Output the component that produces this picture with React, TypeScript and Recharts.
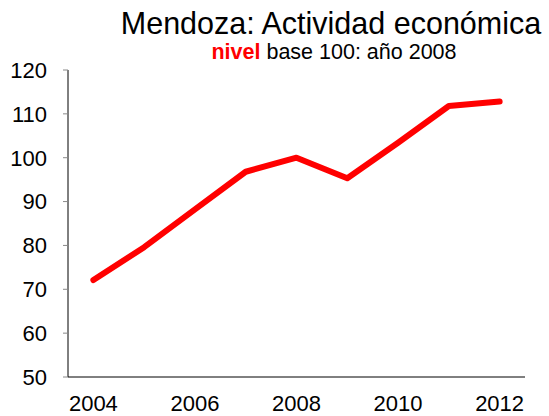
import React from 'react';
import { LineChart, Line, XAxis, YAxis } from 'recharts';

const years = [2004, 2005, 2006, 2007, 2008, 2009, 2010, 2011, 2012];
const nivel = [72.1, 79.6, 88.2, 96.8, 100, 95.3, 103.4, 111.8, 112.8];
const yearLabels = [2004, 2006, 2008, 2010, 2012];
const yTicks = [50, 60, 70, 80, 90, 100, 110, 120];

// tick marks sit between the years, like in the spreadsheet original
const bandEdges = [...years.map((y) => y - 0.5), years[years.length - 1] + 0.5];

const data = years.map((year, i) => ({ year, nivel: nivel[i] }));

const font = '"Liberation Sans", Arial, sans-serif';

const App: React.FC = () => {
  return (
    <div style={{ position: 'absolute', left: 0, top: 0, width: 549, height: 416, background: '#fff', fontFamily: font }}>
      <div
        style={{
          position: 'absolute',
          left: 111,
          width: 440,
          top: 8,
          textAlign: 'center',
          fontSize: 30.5,
          lineHeight: '30px',
          color: '#000',
          whiteSpace: 'nowrap'
        }}
      >
        Mendoza: Actividad económica
      </div>
      <div
        style={{
          position: 'absolute',
          left: 134,
          width: 400,
          top: 41,
          textAlign: 'center',
          fontSize: 21.5,
          lineHeight: '22px',
          color: '#000',
          whiteSpace: 'nowrap'
        }}
      >
        <span style={{ color: '#ff0000', fontWeight: 'bold' }}>nivel</span> base 100: año 2008
      </div>
      <LineChart width={549} height={416} data={data} margin={{ top: 70, right: 24, left: 0, bottom: 0 }}>
        <XAxis
          xAxisId="edges"
          type="number"
          dataKey="year"
          domain={[2003.5, 2012.5]}
          allowDataOverflow
          ticks={bandEdges}
          interval={0}
          tick={false}
          tickSize={5}
          height={6}
          axisLine={{ stroke: '#000' }}
          tickLine={{ stroke: '#888' }}
        />
        <XAxis
          xAxisId="years"
          type="number"
          dataKey="year"
          domain={[2003.5, 2012.5]}
          allowDataOverflow
          ticks={yearLabels}
          interval={0}
          axisLine={false}
          tickLine={false}
          tickSize={6}
          tickMargin={6}
          height={33}
          tick={{ fill: '#000', fontSize: 22, fontFamily: font }}
        />
        <YAxis
          domain={[50, 120]}
          ticks={yTicks}
          interval={0}
          width={68}
          tickSize={5}
          tickMargin={16}
          axisLine={{ stroke: '#000' }}
          tickLine={{ stroke: '#888' }}
          tick={{ fill: '#000', fontSize: 22, fontFamily: font }}
        />
        <Line
          xAxisId="years"
          type="linear"
          dataKey="nivel"
          stroke="#ff0000"
          strokeWidth={6}
          strokeLinecap="round"
          strokeLinejoin="round"
          dot={false}
          activeDot={false}
          isAnimationActive={false}
        />
      </LineChart>
    </div>
  );
};

export default App;
